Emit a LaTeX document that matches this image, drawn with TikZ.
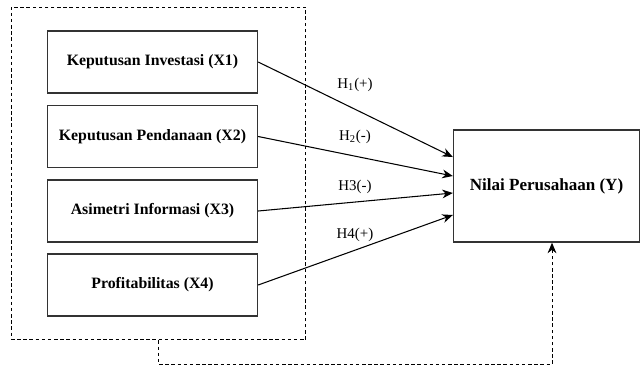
\documentclass[tikz,border=0pt]{standalone}
\usepackage{fontspec}
\setmainfont{Liberation Serif}
\usetikzlibrary{arrows.meta,positioning}

\begin{document}
\begin{tikzpicture}[x=0.02cm,y=-0.02cm,>={Stealth[length=6pt,width=5pt]},
                    var node/.style={rectangle,draw=black!80,line width=0.8pt,minimum width=4.2cm,minimum height=1.24cm,font=\fontsize{9}{11}\selectfont\bfseries},
                    hyp/.style={font=\fontsize{8.5}{10}\selectfont},
                    dash line/.style={dash pattern=on 2pt off 1.5pt,line width=0.55pt}]
 \useasboundingbox (0,0) rectangle (641,368);

 \node[rectangle,draw,dash line,minimum width=5.9cm,minimum height=6.66cm] (frame) at (158.5,173.5) {};

 \node[var node] (x1) at (152.5,62) {Keputusan Investasi (X1)};
 \node[var node] (x2) at (152.5,136.5) {Keputusan Pendanaan (X2)};
 \node[var node] (x3) at (152.5,211) {Asimetri Informasi (X3)};
 \node[var node] (x4) at (152.5,285) {Profitabilitas (X4)};

 \node[rectangle,draw=black!80,line width=0.8pt,minimum width=3.72cm,minimum height=2.24cm,
       font=\fontsize{9.7}{12}\selectfont\bfseries] (y) at (546.5,186) {Nilai Perusahaan (Y)};

 \node[hyp] (h1) at (355,85) {H\textsubscript{1}(+)};
 \node[hyp] (h2) at (355,137) {H\textsubscript{2}(-)};
 \node[hyp] (h3) at (355,187) {H3(-)};
 \node[hyp] (h4) at (355,235) {H4(+)};

 \path[->,line width=0.6pt]
   (x1.east) edge ([yshift=0.58cm]y.west)
   (x2.east) edge ([yshift=0.2cm]y.west)
   (x3.east) edge ([yshift=-0.14cm]y.west)
   (x4.east) edge ([yshift=-0.58cm]y.west);

 \draw[->,dash line] (frame.south) -- ++(0,24) -| ([xshift=0.11cm]y.south);
\end{tikzpicture}
\end{document}
